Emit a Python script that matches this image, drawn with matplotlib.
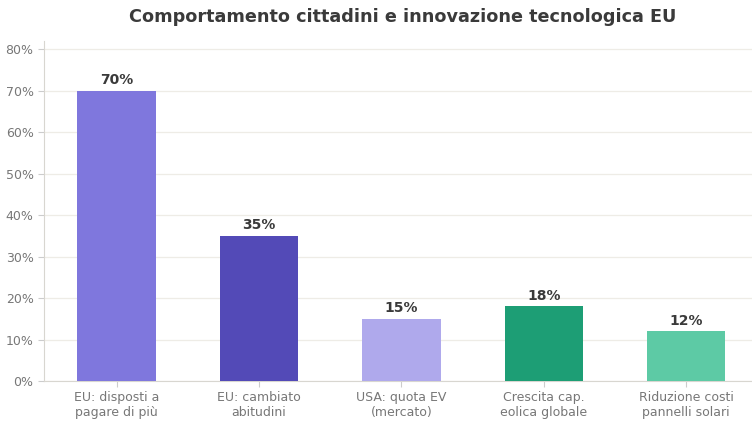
import matplotlib
matplotlib.use("Agg")
import matplotlib.pyplot as plt
from matplotlib.ticker import FuncFormatter

categories = ["EU: disposti a\npagare di più", "EU: cambiato\nabitudini", "USA: quota EV\n(mercato)",
              "Crescita cap.\neolica globale", "Riduzione costi\npannelli solari"]
values = [70, 35, 15, 18, 12]
colors = ["#7F77DD", "#534AB7", "#AFA9EC", "#1D9E75", "#5DCAA5"]
yticks = [0, 10, 20, 30, 40, 50, 60, 70, 80]

fig = plt.figure(figsize=(7.52, 4.21), dpi=100)
ax = fig.add_axes([44 / 752, 1 - 381 / 421, 712 / 752, 340 / 421])

x = range(len(categories))
ax.bar(x, values, width=0.55, color=colors, zorder=3)
for xi, v in zip(x, values):
    ax.text(xi, v + 0.9, f"{v}%", ha="center", va="bottom", fontsize=10,
            fontweight="bold", color="#3a3a3a")

ax.set_xlim(-0.51, 4.49)
ax.set_ylim(0, 82)
ax.set_yticks(yticks)
ax.yaxis.set_major_formatter(FuncFormatter(lambda v, p: f"{v:.0f}%"))
ax.set_xticks(list(x))
ax.set_xticklabels(categories)
ax.grid(axis="y", color="#eeece6", linewidth=0.9, zorder=0)
ax.tick_params(axis="both", colors="#cccccc", labelcolor="#777777", labelsize=9, length=4)
for s in ["top", "right"]:
    ax.spines[s].set_visible(False)
for s in ["left", "bottom"]:
    ax.spines[s].set_color("#d8d6d0")

fig.suptitle("Comportamento cittadini e innovazione tecnologica EU", x=0.535, y=0.98,
             fontsize=12.7, fontweight="bold", color="#3a3a3a")

fig.savefig("out.png", dpi=100)
